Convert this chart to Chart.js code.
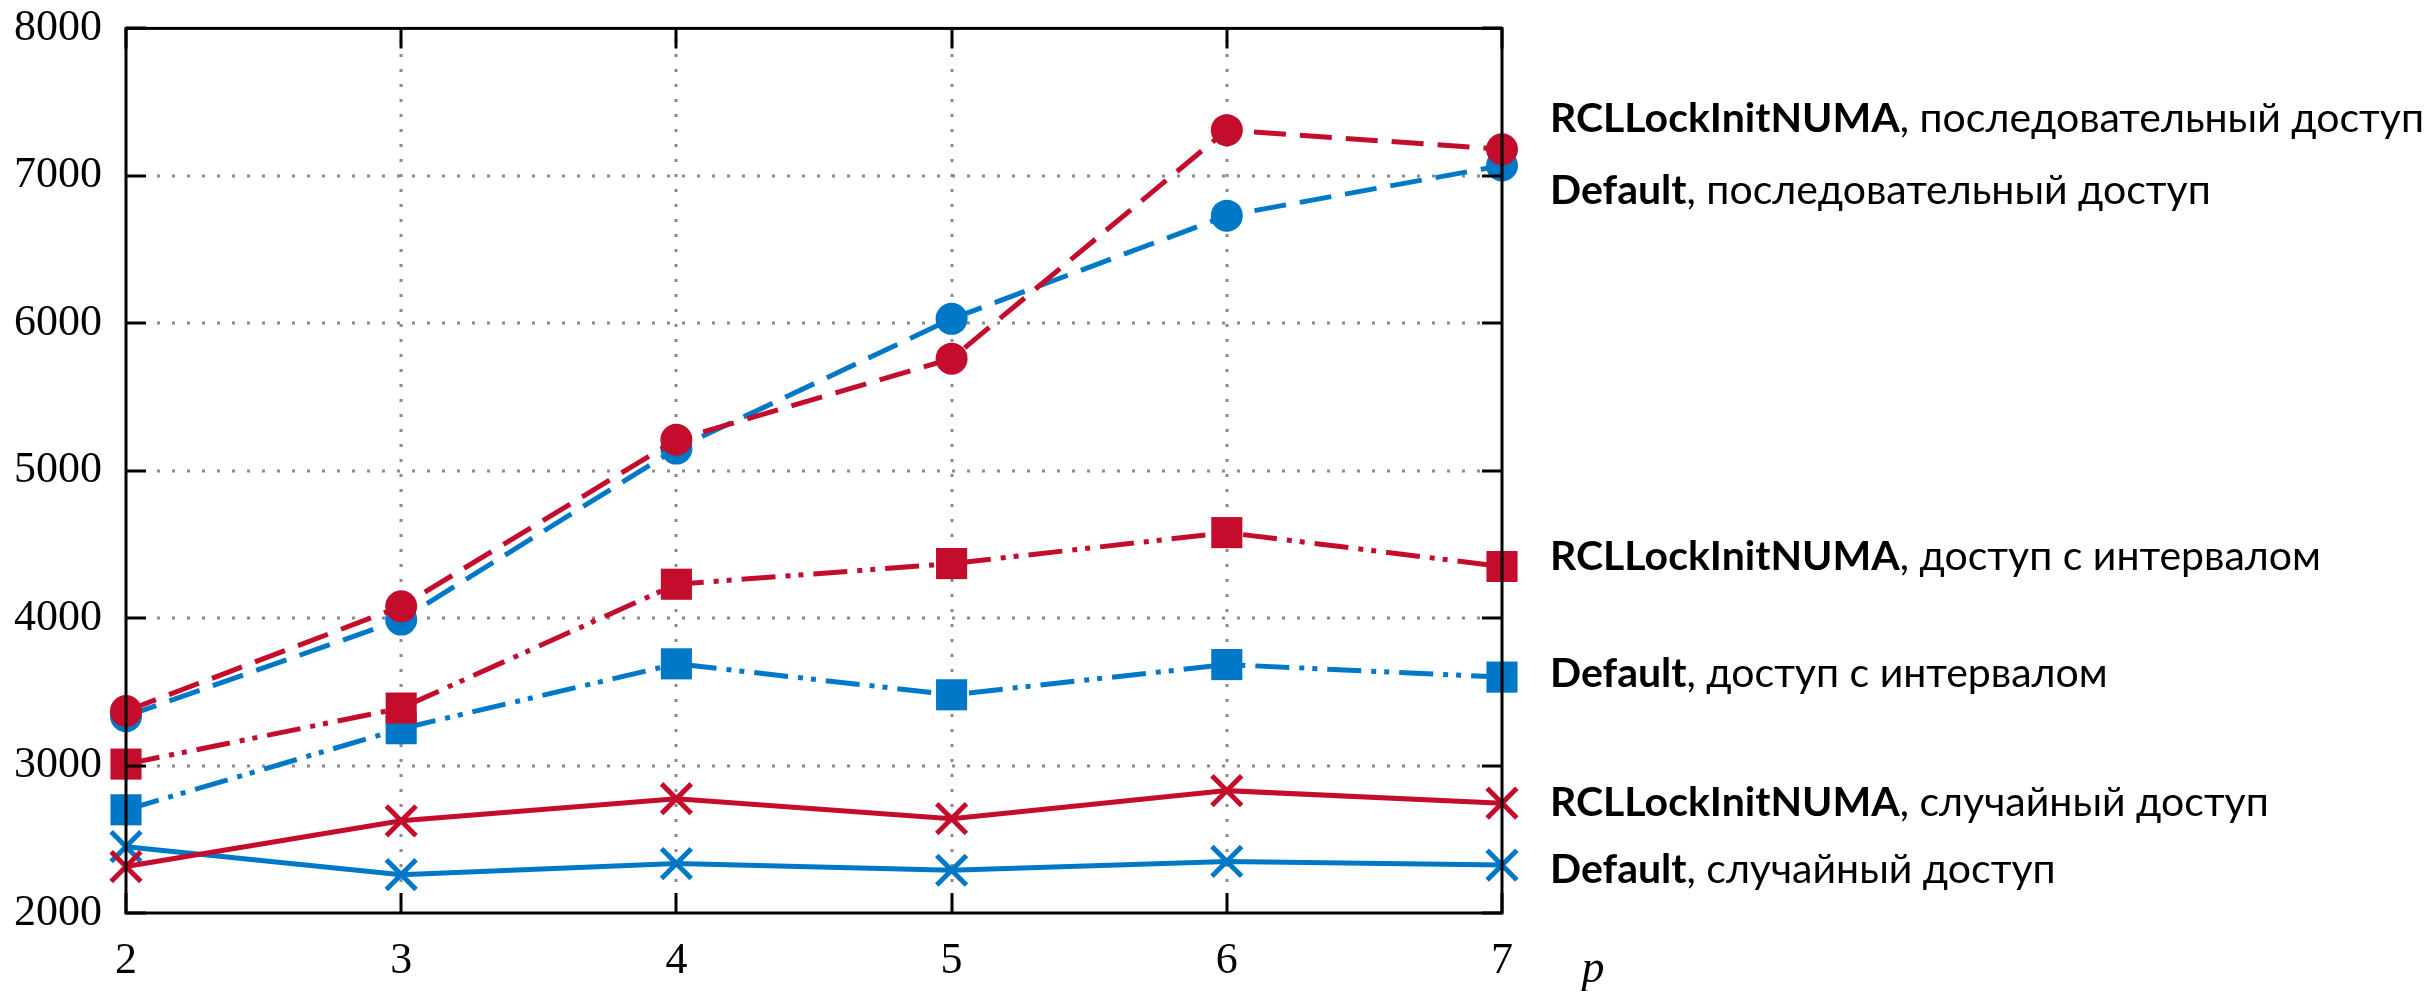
<!DOCTYPE html>
<html><head><meta charset="utf-8">
<script src="https://cdn.jsdelivr.net/npm/chart.js@4.4.1/dist/chart.umd.min.js"></script>
<style>html,body{margin:0;padding:0;background:#fff;overflow:hidden}</style>
</head><body>
<canvas id="c" width="2425" height="991" style="width:2425px;height:991px;display:block"></canvas>
<script>
// ---- data ----
const pValues = [2, 3, 4, 5, 6, 7];
const rclSeq  = [3370, 4080, 5210, 5760, 7310, 7180];
const defSeq  = [3335, 3990, 5150, 6030, 6730, 7070];
const rclInt  = [3010, 3390, 4230, 4370, 4580, 4350];
const defInt  = [2700, 3250, 3690, 3480, 3685, 3600];
const rclRand = [2315, 2625, 2775, 2640, 2830, 2745];
const defRand = [2450, 2260, 2335, 2290, 2350, 2325];
const yTicks = [2000, 3000, 4000, 5000, 6000, 7000, 8000];
const xTicks = [2, 3, 4, 5, 6, 7];
const labelBold = ["RCLLockInitNUMA", "Default", "RCLLockInitNUMA", "Default", "RCLLockInitNUMA", "Default"];
const labelRest = [", последовательный доступ", ", последовательный доступ", ", доступ с интервалом", ", доступ с интервалом", ", случайный доступ", ", случайный доступ"];
const labelAt = [7386, 6900, 4416, 3620, 2749, 2290];
const xTitle = "p";

const RED = '#C40D2C', BLUE = '#0078C8';
const pts = arr => arr.map((v, i) => ({x: pValues[i], y: v}));

const seqDash = [32, 14];
const intDash = [34, 10, 5, 8, 5, 10];

function ds(data, color, kind, order) {
  const base = {data: pts(data), borderColor: color, backgroundColor: color,
    pointBackgroundColor: color, pointBorderColor: color, borderWidth: 5,
    fill: false, tension: 0, clip: false, order: order};
  if (kind === 'seq') return Object.assign(base, {borderDash: seqDash, pointStyle: 'circle', pointRadius: 16, pointBorderWidth: 0});
  if (kind === 'int') return Object.assign(base, {borderDash: intDash, pointStyle: 'rect', pointRadius: 22, pointBorderWidth: 0});
  return Object.assign(base, {pointStyle: 'crossRot', pointRadius: 21, pointBorderWidth: 5});
}

const decor = {
  id: 'decor',
  beforeDatasetsDraw(chart) {
    const {ctx, chartArea: a, scales: {x, y}} = chart;
    ctx.save();
    ctx.strokeStyle = '#8a8a8a';
    ctx.lineWidth = 3;
    ctx.setLineDash([3, 12]);
    yTicks.forEach(v => {
      if (v === yTicks[0] || v === yTicks[yTicks.length - 1]) return;
      const py = Math.round(y.getPixelForValue(v));
      ctx.beginPath(); ctx.moveTo(a.left + 31, py); ctx.lineTo(a.right - 22, py); ctx.stroke();
    });
    xTicks.forEach(v => {
      if (v === xTicks[0] || v === xTicks[xTicks.length - 1]) return;
      const px = Math.round(x.getPixelForValue(v));
      ctx.beginPath(); ctx.moveTo(px, a.bottom - 31); ctx.lineTo(px, a.top + 2); ctx.stroke();
    });
    ctx.restore();
  },
  afterDatasetsDraw(chart) {
    const {ctx, chartArea: a, scales: {x, y}} = chart;
    ctx.save();
    ctx.setLineDash([]);
    ctx.strokeStyle = '#000';
    ctx.lineWidth = 3;
    ctx.strokeRect(a.left, a.top, a.right - a.left, a.bottom - a.top);
    const tl = 20;
    ctx.beginPath();
    yTicks.forEach(v => {
      const py = Math.round(y.getPixelForValue(v));
      ctx.moveTo(a.left, py); ctx.lineTo(a.left + tl, py);
      ctx.moveTo(a.right, py); ctx.lineTo(a.right - tl, py);
    });
    xTicks.forEach(v => {
      const px = Math.round(x.getPixelForValue(v));
      ctx.moveTo(px, a.bottom); ctx.lineTo(px, a.bottom - tl);
      ctx.moveTo(px, a.top); ctx.lineTo(px, a.top + tl);
    });
    ctx.stroke();
    ctx.restore();
  },
  afterDraw(chart) {
    const {ctx, chartArea: a, scales: {y}} = chart;
    ctx.save();
    ctx.fillStyle = '#000';
    ctx.textBaseline = 'middle';
    ctx.textAlign = 'left';
    const lx = a.right + 48;
    labelAt.forEach((v, i) => {
      const py = y.getPixelForValue(v);
      ctx.font = 'bold 41px Lato';
      ctx.fillText(labelBold[i], lx, py);
      const w = ctx.measureText(labelBold[i]).width;
      ctx.font = '41px Lato';
      ctx.fillText(labelRest[i], lx + w, py);
    });
    ctx.font = 'italic 46px "Liberation Serif"';
    ctx.textAlign = 'center';
    ctx.fillText(xTitle, a.right + 91, 970);
    ctx.restore();
  }
};

new Chart(document.getElementById('c'), {
  type: 'line',
  data: {datasets: [
    ds(rclSeq, RED, 'seq', 1),
    ds(defSeq, BLUE, 'seq', 2),
    ds(rclInt, RED, 'int', 1),
    ds(defInt, BLUE, 'int', 2),
    ds(rclRand, RED, 'rand', 1),
    ds(defRand, BLUE, 'rand', 2)
  ]},
  options: {
    responsive: false, animation: false, devicePixelRatio: 1,
    layout: {padding: {left: 0, right: 923, top: 24, bottom: 0}},
    plugins: {legend: {display: false}, tooltip: {enabled: false}},
    scales: {
      x: {type: 'linear', min: 2, max: 7,
        afterBuildTicks: s => { s.ticks = xTicks.map(v => ({value: v})); },
        ticks: {color: '#000', padding: 44, font: {family: 'Liberation Serif', size: 44, lineHeight: 0.2},
          callback: v => String(v)},
        grid: {display: false, drawTicks: false}, border: {display: false},
        afterFit: s => { s.height = 78; }},
      y: {type: 'linear', min: 2000, max: 8000,
        afterBuildTicks: s => { s.ticks = yTicks.map(v => ({value: v})); },
        ticks: {color: '#000', padding: 24, font: {family: 'Liberation Serif', size: 44, lineHeight: 0.2},
          callback: v => String(v)},
        grid: {display: false, drawTicks: false}, border: {display: false},
        afterFit: s => { s.width = 126; }}
    }
  },
  plugins: [decor]
});
</script>
</body></html>
